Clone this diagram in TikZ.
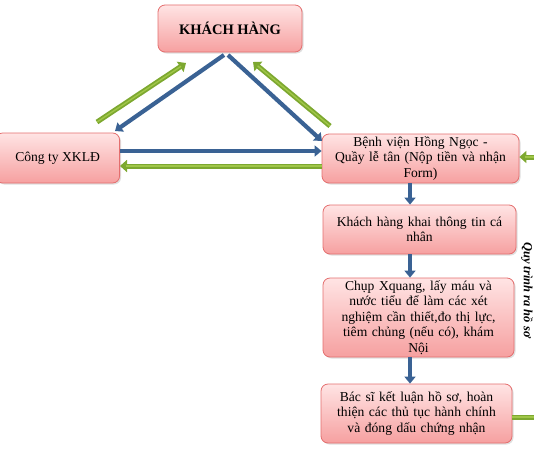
\documentclass[tikz,border=0pt]{standalone}
\usepackage{fontspec}
\setmainfont{Liberation Serif}
\usetikzlibrary{arrows.meta,shadows,calc}
\definecolor{boxtop}{RGB}{255,228,228}
\definecolor{boxbot}{RGB}{246,160,160}
\definecolor{boxline}{RGB}{228,110,110}
\definecolor{arrblue}{RGB}{58,98,148}
\definecolor{arrgreen}{RGB}{125,168,48}
\definecolor{arrgreenlt}{RGB}{160,198,72}
\begin{document}
\begin{tikzpicture}[x=1pt,y=-1pt,
  pbox/.style={draw=boxline,line width=0.8pt,rounded corners=7pt,top color=boxtop,bottom color=boxbot,
    drop shadow={shadow xshift=1.5pt,shadow yshift=-1.5pt,opacity=0.25},align=center,inner sep=2pt,
    font=\fontsize{13.6}{15.6}\selectfont},
  barrow/.style={draw=arrblue,line width=4.2pt,-{Triangle[length=7pt,width=11pt]}},
  garrow/.style={draw=arrgreen,line width=5pt,-{Triangle[length=7pt,width=12pt]}},
  gline/.style={draw=arrgreen,line width=5pt},
  ghl/.style={draw=arrgreenlt,line width=1.4pt,shorten >=6pt}]
\useasboundingbox (0,0) rectangle (534,452);
\node[pbox,minimum width=144pt,minimum height=47pt,font=\bfseries\fontsize{14.5}{16}\selectfont] (kh) at (230,28.5) {KHÁCH HÀNG};
\node[pbox,minimum width=124pt,minimum height=50pt,anchor=east] (ct) at (120,158) {Công ty XKLĐ};
\node[pbox,minimum width=197pt,minimum height=49pt,text width=192pt] (bv) at (420.5,158.5) {Bệnh viện Hồng Ngọc -\\Quầy lễ tân (Nộp tiền và nhận\\Form)};
\node[pbox,minimum width=193pt,minimum height=49pt,text width=188pt] (kk) at (419.5,229.5) {Khách hàng khai thông tin cá\\nhân};
\node[pbox,minimum width=191pt,minimum height=79pt,text width=186pt] (cx) at (418.5,317.5) {Chụp Xquang, lấy máu và\\nước tiểu để làm các xét\\nghiệm cần thiết,đo thị lực,\\tiêm chủng (nếu có), khám\\Nội};
\node[pbox,minimum width=191pt,minimum height=59pt,text width=186pt] (bs) at (416.5,413.5) {Bác sĩ kết luận hồ sơ, hoàn\\thiện các thủ tục hành chính\\và đóng dấu chứng nhận};
\node[rotate=-90,font=\bfseries\itshape\fontsize{12.5}{14}\selectfont] (qt) at (527,290) {Quy trình ra hồ sơ};
% coordinates
\coordinate (apL) at (224,55);
\coordinate (apR) at (228,55);
\coordinate (edgeR) at (536,157);
\coordinate (edgeB) at (536,417);
% blue diagonal arrows
\draw[barrow] (apL) -- (115,131);
\draw[barrow] (apR) -- (322,141);
% green diagonal arrows
\draw[garrow] (97,122) -- (186,63);
\draw[ghl] (97,122) -- (186,63);
\draw[garrow] (330,126) -- (253,62);
\draw[ghl] (330,126) -- (253,62);
% horizontal arrows
\draw[barrow] (ct.east|-0,151) -- (bv.west|-0,151);
\draw[garrow] (bv.west|-0,166) -- (ct.east|-0,166);
\draw[ghl] (bv.west|-0,166) -- (ct.east|-0,166);
% right green arrow into bv
\draw[garrow] (edgeR) -- (bv.east|-edgeR);
\draw[ghl] (edgeR) -- (bv.east|-edgeR);
% vertical blue arrows
\draw[barrow] (410,183) -- (kk.north-|410,0);
\draw[barrow] (410,254) -- (cx.north-|410,0);
\draw[barrow] (410,357) -- (bs.north-|410,0);
% bottom right green line
\draw[gline] (bs.east|-edgeB) -- (edgeB);
\draw[draw=arrgreenlt,line width=1.4pt] (bs.east|-edgeB) -- (edgeB);
\end{tikzpicture}
\end{document}
